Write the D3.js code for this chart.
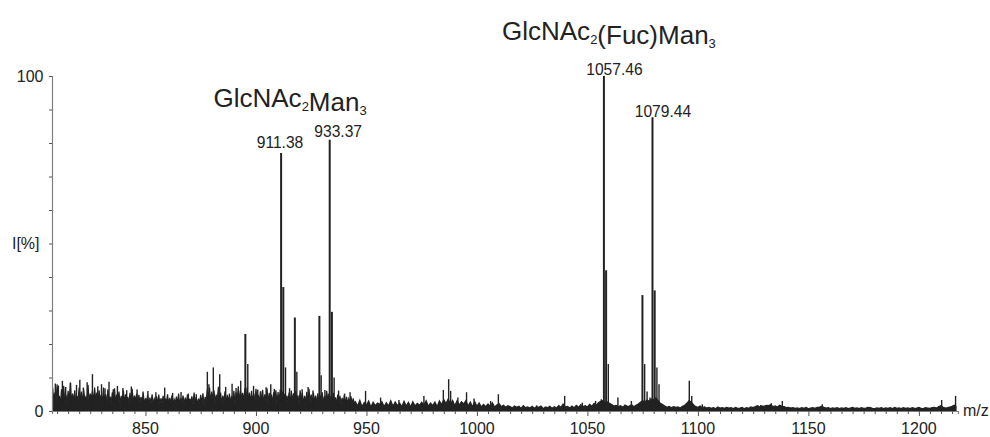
<!DOCTYPE html>
<html><head><meta charset="utf-8">
<script src="https://cdn.jsdelivr.net/npm/d3@7"></script>
<style>
body{margin:0;background:#fff}
svg{display:block;font-family:"Liberation Sans",Arial,Helvetica,sans-serif}
</style>
</head><body>
<svg id="chart" width="990" height="437"></svg>
<script>
// ---------- DATA ----------
// background profile, m/z 808 .. 944.5 in 0.5 steps (intensity %)
const noiseA = [
7,3,5.5,2.5,8,3.2,4.5,2,6.5,3.4,7.5,2.6,4.8,2.2,6,3,8.5,2.4,5.2,2.8,
6.2,2.3,4.4,3.2,7,2.6,5.8,2,6.5,3.5,4.2,2.2,7.8,2.7,5.2,3.6,6,2.3,7,2.9,
5.5,2.1,6.2,3.1,4.8,2.5,7,2.9,5,2,6.5,3.3,4.3,2.4,5.6,2.8,6.8,2.2,4.9,3,
5.8,2.1,4.5,2.9,6.2,2.4,5,3.2,4.2,2.2,5.4,2.7,6.6,2.3,4.6,3,5.2,2,4.8,2.6,
4.2,2.4,5.3,1.9,3.8,2.8,4.8,1.8,4,2.3,5,2,3.6,2.6,4.4,1.9,4.9,2.2,3.8,2.5,
4.5,1.8,3.7,2.7,5,2,3.9,2.3,4.7,1.9,3.5,2.5,4.3,2.1,5.2,1.8,3.8,2.6,4.6,2,
4,2.3,4.9,1.9,3.7,2.7,4.4,2,5.5,2.4,4.1,1.9,3.7,2.5,4.8,2.2,5.3,1.8,4.2,2.8,
6.5,3.2,7,2.6,5.8,3.4,6.2,2.4,4.9,3,7.2,2.5,5.5,2.2,4.6,2.8,5.9,2.1,4.8,2.6,
5.2,2.2,4.5,2.9,6,2.1,5.6,3.2,7.4,2.5,6.2,3.6,5.4,2.8,6.8,2.4,7,3,5.5,2.5,
6,2.8,5.2,2.2,6.6,3.1,4.8,2.3,5.9,2.6,6.3,2.1,5,3,6.8,2.2,5.4,2.8,4.9,2.3,
5.6,2.5,6.2,2.2,5,3.3,6.5,3.6,5.8,3.1,5.1,2.3,4.6,2.8,5.5,2.2,6.1,2.9,5.3,2.1,
5.9,2.6,4.7,2.2,6.2,3,5.4,1.9,4.5,2.5,5.7,2.3,6.6,2.8,4.9,2.1,5.5,2.6,4.6,2.2,
5.3,2.5,4.8,2.9,5.6,2.2,4.4,3.1,6,3.4,5.2,2.8,4.6,2.3,5.4,2.5,4.1,2,4.9,2.6,
4.5,2.1,3.9,2.4,4.8,1.9,4.2,2.3,3.7,2.6,4.4,2,3.8,2.3
];
const noiseAStart = 808, noiseAStep = 0.5;
// background profile, m/z 945 .. 1217 in 1.0 steps (intensity %)
const noiseB = [
2.8,1.5,3.2,1.3,2.5,1.8,3,1.2,2.6,1.6,
2.4,2,2.8,1.3,2.5,1.5,3.1,1.4,2.7,1.6,
2.4,1.3,2.9,1.5,2.6,1.2,2.8,1.5,2.3,1.7,
2.6,1.8,3.1,1.4,2.4,1.6,2.7,1.3,3,1.9,
3.4,2.2,3.6,2,3.2,1.6,3.1,1.8,2.8,2.1,
3.1,1.5,2.7,1.3,2.8,1.4,2.4,1.2,2,1.3,
2.1,1.4,2.5,1.2,1.8,2.2,1.3,1.7,1.1,1.6,
1.3,0.9,1.5,1.1,1.4,0.8,1.6,1,1.2,0.9,
1.4,0.8,1.3,1.1,1.5,0.7,1.2,1,1.4,0.8,
1.3,0.9,1.6,1.1,2.1,1.2,1.4,0.9,1.5,1,
1.7,1.1,1.9,1.3,1.6,1.2,2,1.4,2.3,1.7,
2.5,2.9,3.1,2.6,2.7,2.3,1.9,1.5,1.7,1.3,
1.6,1.1,1.8,1.4,1.5,1.9,1.3,1.7,2.1,2.6,
3.1,2.7,3.3,2.9,3.6,3.3,3.9,3.1,2.3,1.9,
1.5,1.1,1.4,1,1.3,1.1,1.2,0.9,1.4,1.7,
2.3,3.1,2.6,1.9,1.3,1.1,1.5,1,1.2,0.9,
1.1,0.8,1,0.7,1.2,0.9,1,0.8,1.1,0.9,
1,0.7,1.1,0.8,0.9,1.1,0.7,1,0.8,1.2,
1,1.3,1.6,1.2,1.5,1.4,1.7,1.6,1.9,1.3,
1.5,1.2,1.7,1.4,1.3,1,1.1,0.9,1,0.8,
0.9,0.7,1,0.8,1.1,0.7,0.9,1,0.8,1.1,
1.2,1.4,1.1,0.9,1,0.7,0.9,0.8,1,0.7,
0.9,0.8,1,0.7,0.9,1.1,0.8,0.9,0.7,1,
0.8,0.9,1.1,1,0.8,0.7,0.9,0.8,1,0.7,
0.9,0.8,1,0.7,1.1,0.8,0.9,0.7,1,0.8,
0.9,0.7,1,0.8,0.9,1.1,0.8,0.7,1,0.9,
0.8,1,1.1,0.9,1.3,1.6,1.1,0.9,1,1.2,
1.4,1.7,1.1
];
const noiseBStart = 945, noiseBStep = 1;

// centroid peaks (m/z, intensity %)
const peakMz = [
809.2,810.6,812.4,813.9,816.1,818.8,820.3,821.9,823.6,826.0,828.4,830.1,831.7,833.5,
835.4,837.3,839.8,841.5,843.6,846.2,848.9,851.1,854.7,858.7,862.3,866.1,869.4,873.0,
878.0,878.7,880.7,883.6,886.3,889.2,891.0,893.1,895.2,896.3,898.9,
900.8,902.9,904.6,906.7,908.3,910.0,
911.38,912.38,913.38,
915.2,917.6,918.5,920.9,923.6,925.8,
928.7,929.5,931.2,
933.37,934.37,935.37,
937.4,940.1,942.6,
949.6,956.4,964.7,976.0,984.8,987.2,988.1,991.4,995.3,998.7,1006.2,1009.7,1027.0,1039.7,1047.7,1053.7,
1056.3,1057.46,1058.46,1059.46,
1063.8,1069.9,
1074.9,1075.9,1077.0,1078.3,
1079.44,1080.44,1081.44,1082.4,
1096.1,1097.2,1102.0,
1128.4,1132.1,1133.2,1138.2,1156.3,1210.3,1216.6
];
const peakInt = [
8.2,7.6,9,7.2,8.4,7.8,9.3,7,8.6,11,7.4,8,6.8,8.7,
6.5,7.5,6.9,6.2,7.3,6.4,5.8,6,5.6,7,5.4,5.7,5.2,5,
11.7,8,13,11,7.2,8.1,6.9,9,23,14,7.5,
6.4,6,7.1,8,6.6,5.7,
77,37,13,
6.8,27.9,11.7,6.5,7.2,6.1,
28.4,10.7,6.3,
81,29.6,10,
6.1,5.2,5.6,
6,4,3.3,4.5,6.3,9.5,6,4,5.6,3.7,3,5,1.7,4.5,2.5,3,
3.5,100,42,14,
4,3,
34.6,14,5.8,4,
87.7,36,13,8,
9,4.5,2,
1.8,1.8,2.3,3,2,3.3,4.5
];

// peak annotations
const labelMz = [911.38, 933.37, 1057.46, 1079.44];
const labelText = ["911.38", "933.37", "1057.46", "1079.44"];

// axis ticks
const xTickLabels = [850, 900, 950, 1000, 1050, 1100, 1150, 1200];
const yTickLabelValues = [0, 50, 100];
const yTickLabelText = ["0", "I[%]", "100"];
const xAxisTitle = "m/z";

// ---------- LAYOUT ----------
const x = d3.scaleLinear().domain([807.7, 1217.7]).range([52, 958]);
const y = d3.scaleLinear().domain([0, 100]).range([411, 76]);
const ink = "#222";
const axisGrey = "#808080";

const svg = d3.select("#chart");

// profile
const profile = [];
noiseA.forEach((v, i) => profile.push([noiseAStart + i * noiseAStep, v]));
noiseB.forEach((v, i) => profile.push([noiseBStart + i * noiseBStep, v]));

svg.append("path")
  .datum(profile)
  .attr("fill", ink)
  .attr("stroke", "none")
  .attr("d", d3.area().x(d => x(d[0])).y0(y(0)).y1(d => y(d[1])));

svg.append("path")
  .datum(profile)
  .attr("fill", "none")
  .attr("stroke", ink)
  .attr("stroke-width", 1.2)
  .attr("d", d3.line().x(d => x(d[0])).y(d => y(d[1])));

// sticks
const peaks = peakMz.map((m, i) => ({mz: m, v: peakInt[i]}));
svg.append("g").selectAll("line").data(peaks).join("line")
  .attr("x1", d => x(d.mz)).attr("x2", d => x(d.mz))
  .attr("y1", y(0)).attr("y2", d => y(d.v))
  .attr("stroke", ink)
  .attr("stroke-width", d => d.v > 20 ? 2 : 1.4);

// axes
const yAxis = d3.axisLeft(y).tickValues(d3.range(0, 101, 10)).tickSize(3).tickFormat("");
const gy = svg.append("g").attr("transform", `translate(${x.range()[0]},0)`).call(yAxis);
gy.select(".domain").attr("stroke", axisGrey).attr("stroke-width", 1.2);
gy.selectAll(".tick line").attr("stroke", "#555");

const xAxis = d3.axisBottom(x).tickValues(d3.range(810, 1218, 5)).tickSize(3).tickFormat("");
const gx = svg.append("g").attr("transform", `translate(0,${y(0)})`).call(xAxis);
gx.select(".domain").attr("stroke", axisGrey).attr("stroke-width", 1.2);
gx.selectAll(".tick line").attr("stroke", "#555")
  .attr("y2", d => xTickLabels.includes(d) ? 5 : 3);

svg.append("g").selectAll("text").data(xTickLabels).join("text")
  .attr("x", d => x(d)).attr("y", 433.6)
  .attr("text-anchor", "middle")
  .attr("font-size", 16).attr("fill", ink)
  .text(d => d);

const yLabelDx = [0, -4, 0];
svg.append("g").selectAll("text").data(yTickLabelValues).join("text")
  .attr("x", (d, i) => x.range()[0] - 8.5 + yLabelDx[i])
  .attr("y", d => y(d) + 5.8)
  .attr("text-anchor", "end")
  .attr("font-size", 16).attr("fill", ink)
  .text((d, i) => yTickLabelText[i]);

svg.append("text")
  .attr("x", x.range()[1] + 5).attr("y", y(0) + 5)
  .attr("font-size", 16).attr("fill", ink)
  .text(xAxisTitle);

// peak labels
const labelDx = [-24.4, -15.4, -17.7, -17.7];
const labelDy = [-4.7, -2.3, -1.3, -0.6];
svg.append("g").selectAll("text").data(labelMz).join("text")
  .attr("x", (m, i) => x(m) + labelDx[i])
  .attr("y", (m, i) => y(peaks.find(p => p.mz === m).v) + labelDy[i])
  .attr("font-size", 15.6).attr("fill", ink)
  .text((m, i) => labelText[i]);

// glycan annotations
function glycan(xp, yp, parts) {
  const t = svg.append("text").attr("x", xp).attr("y", yp).attr("fill", ink).attr("font-size", 26);
  parts.forEach(p => {
    if (p.sub) {
      t.append("tspan").attr("font-size", 13).attr("dy", 4).text(p.s);
      t.append("tspan").attr("dy", -4).text("");
    } else {
      t.append("tspan").text(p.s);
    }
  });
}
glycan(213.5, 106.7, [{s:"GlcNAc"},{s:"2",sub:true},{s:"Man"},{s:"3",sub:true}]);
glycan(502, 40, [{s:"GlcNAc"},{s:"2",sub:true},{s:"(Fuc)Man"},{s:"3",sub:true}]);
</script>
</body></html>
